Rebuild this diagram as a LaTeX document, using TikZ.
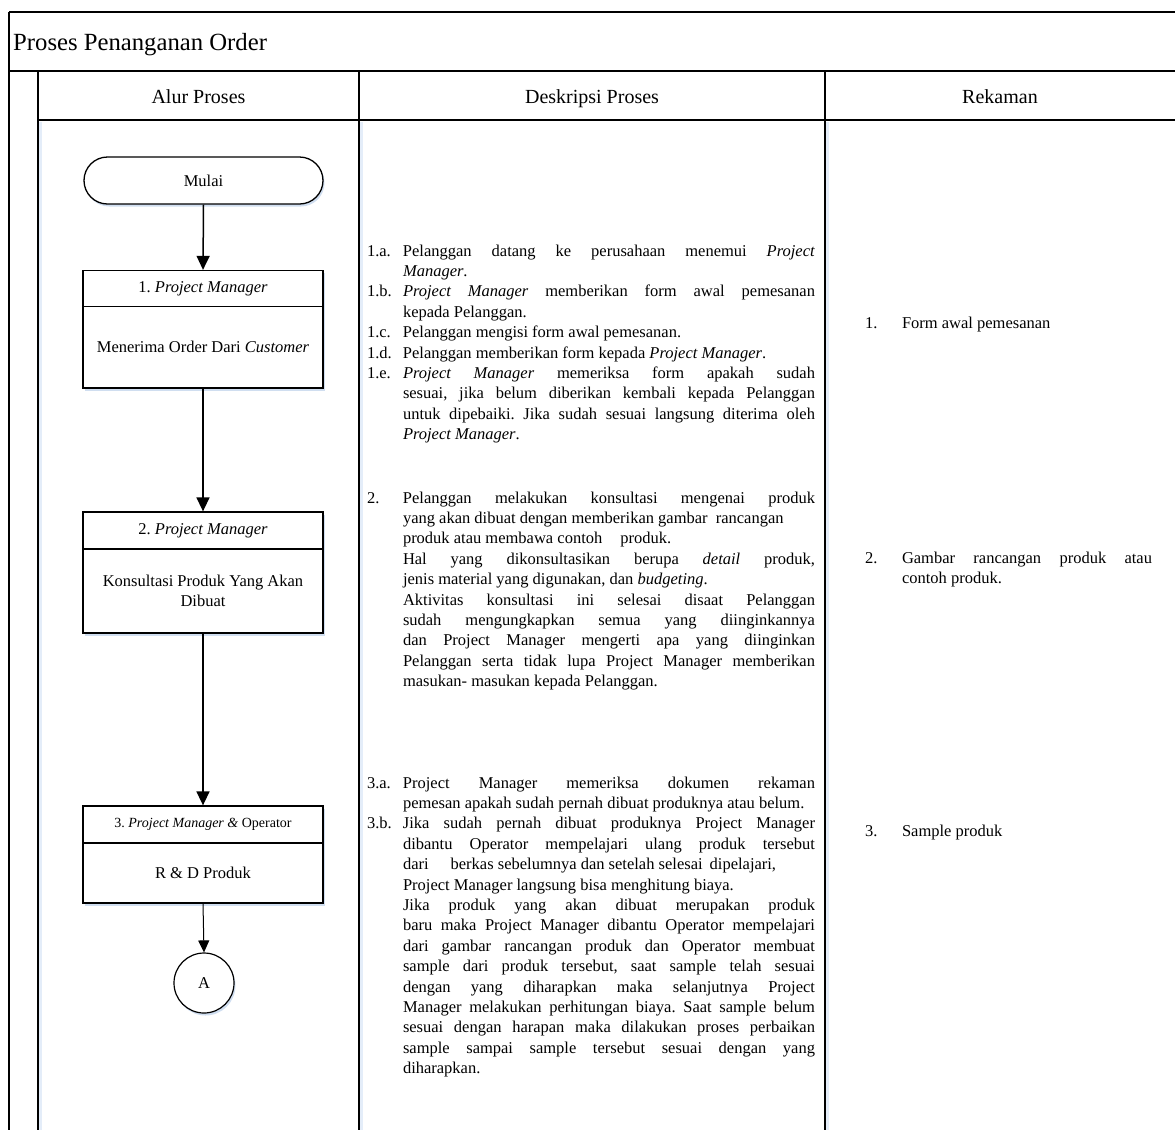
\documentclass[tikz,border=0pt]{standalone}
\usepackage{fontspec}
\setmainfont{Liberation Serif}
\usetikzlibrary{arrows.meta,shadows}
\definecolor{shadowblue}{RGB}{208,222,240}
\definecolor{lineshadow}{RGB}{228,237,249}
\frenchspacing

\newcommand{\djl}[2]{\makebox[36pt][l]{#1}\makebox[412pt][s]{#2}\par}
\newcommand{\dll}[2]{\makebox[36pt][l]{#1}#2\par}
\newcommand{\desctext}{\fontsize{16.5pt}{20.4pt}\selectfont\frenchspacing\setlength{\parskip}{0pt}\setlength{\parindent}{0pt}}

\tikzset{
  frame/.style={line width=1.6pt},
  lshadow/.style={lineshadow, line width=2.5pt},
  hdr/.style={anchor=base, inner sep=0pt, font={\fontsize{20pt}{24pt}\selectfont}},
  desc/.style={anchor=base west, inner sep=0pt, outer sep=0pt},
  fbox/.style={draw, line width=1.3pt, fill=white, minimum width=240pt, inner sep=0pt,
    align=center, font={\fontsize{16.5pt}{20.6pt}\selectfont},
    drop shadow={shadow xshift=1.5pt, shadow yshift=-2.5pt, fill=shadowblue, opacity=1}},
  arr/.style={-{Triangle[width=13pt,length=14pt]}, line width=1.5pt},
  arrthin/.style={-{Triangle[width=11pt,length=12pt]}, line width=1pt}
}

\begin{document}
\begin{tikzpicture}[x=1pt,y=-1pt]
\useasboundingbox (0,0) rectangle (1175,1130);

% light shadows of lane lines
\draw[lshadow] (40.5,122) -- (40.5,1130);
\draw[lshadow] (361.5,122) -- (361.5,1130);
\draw[lshadow] (827.5,122) -- (827.5,1130);

% frame
\draw[frame] (9,12) -- (1175,12);
\draw[frame] (9,12) -- (9,1130);
\draw[frame] (9,71) -- (1175,71);
\draw[frame] (38,71) -- (38,1130);
\draw[frame] (38,120) -- (1175,120);
\draw[frame] (359,71) -- (359,1130);
\draw[frame] (825,71) -- (825,1130);

% title and headers
\node[anchor=base west, inner sep=0pt, font={\fontsize{24.7pt}{30pt}\selectfont}] (title) at (13,50) {Proses Penanganan Order};
\node[hdr] (h1) at (198.5,103) {Alur Proses};
\node[hdr] (h2) at (592,103) {Deskripsi Proses};
\node[hdr] (h3) at (1000,103) {Rekaman};

% flowchart
\node[fbox, minimum width=239pt, minimum height=47pt, rounded corners=23.5pt] (start) at (203.5,180.5) {Mulai};

\node[fbox, minimum height=36pt] (b1h) at (203,288.5) {1. \textit{Project Manager}};
\node[fbox, minimum height=81.5pt] (b1b) at (203,347.25) {Menerima Order Dari \textit{Customer}};

\node[fbox, minimum height=37pt] (b2h) at (203,530.5) {2. \textit{Project Manager}};
\node[fbox, minimum height=84pt] (b2b) at (203,591) {Konsultasi Produk Yang Akan\\Dibuat};

\node[fbox, minimum height=37pt, font={\fontsize{14pt}{17pt}\selectfont}] (b3h) at (203,824.5) {3. \textit{Project Manager \&} Operator};
\node[fbox, minimum height=60pt] (b3b) at (203,873) {R \& D Produk};

\node[fbox, circle, minimum width=60pt, minimum size=60pt, line width=1.2pt] (A) at (204,983) {A};

\draw[arr] (start.south) -- (b1h.north);
\draw[arr] (b1b.south) -- (b2h.north);
\draw[arr] (b2b.south) -- (b3h.north);
\draw[arrthin] (b3b.south) -- (A.north);

% descriptions
\node[desc] (d1) at (367,256) {\begin{minipage}[t]{450pt}\desctext
\djl{1.a.}{Pelanggan datang ke perusahaan menemui \textit{Project}}
\dll{}{\textit{Manager}.}
\djl{1.b.}{\textit{Project Manager} memberikan form awal pemesanan}
\dll{}{kepada Pelanggan.}
\dll{1.c.}{Pelanggan mengisi form awal pemesanan.}
\dll{1.d.}{Pelanggan memberikan form kepada \textit{Project Manager}.}
\djl{1.e.}{\textit{Project Manager} memeriksa form apakah sudah}
\djl{}{sesuai, jika belum diberikan kembali kepada Pelanggan}
\djl{}{untuk dipebaiki. Jika sudah sesuai langsung diterima oleh}
\dll{}{\textit{Project Manager}.}
\end{minipage}};

\node[desc] (d2) at (367,503) {\begin{minipage}[t]{450pt}\desctext
\djl{2.}{Pelanggan melakukan konsultasi mengenai produk}
\dll{}{yang akan dibuat dengan memberikan gambar\hspace{4pt} rancangan}
\dll{}{produk atau membawa contoh\hspace{18pt}produk.}
\djl{}{Hal yang dikonsultasikan berupa \textit{detail} produk,}
\dll{}{jenis material yang digunakan, dan \textit{budgeting}.}
\djl{}{Aktivitas konsultasi ini selesai disaat Pelanggan}
\djl{}{sudah mengungkapkan semua yang diinginkannya}
\djl{}{dan Project Manager mengerti apa yang diinginkan}
\djl{}{Pelanggan serta tidak lupa Project Manager memberikan}
\dll{}{masukan- masukan kepada Pelanggan.}
\end{minipage}};

\node[desc] (d3) at (367,788) {\begin{minipage}[t]{450pt}\desctext
\djl{3.a.}{Project Manager memeriksa dokumen rekaman}
\dll{}{pemesan apakah sudah pernah dibuat produknya atau belum.}
\djl{3.b.}{Jika sudah pernah dibuat produknya Project Manager}
\djl{}{dibantu Operator mempelajari ulang produk tersebut}
\dll{}{dari\hspace{22pt}berkas sebelumnya dan setelah selesai\hspace{7pt}dipelajari,}
\dll{}{Project Manager langsung bisa menghitung biaya.}
\djl{}{Jika produk yang akan dibuat merupakan produk}
\djl{}{baru maka Project Manager dibantu Operator mempelajari}
\djl{}{dari gambar rancangan produk dan Operator membuat}
\djl{}{sample dari produk tersebut, saat sample telah sesuai}
\djl{}{dengan yang diharapkan maka selanjutnya Project}
\djl{}{Manager melakukan perhitungan biaya. Saat sample belum}
\djl{}{sesuai dengan harapan maka dilakukan proses perbaikan}
\djl{}{sample sampai sample tersebut sesuai dengan yang}
\dll{}{diharapkan.}
\end{minipage}};

% records
\node[desc] (r1) at (865,328) {\begin{minipage}[t]{300pt}\desctext
\makebox[37pt][l]{1.}Form awal pemesanan\par
\end{minipage}};
\node[desc] (r2) at (865,563) {\begin{minipage}[t]{300pt}\desctext
\makebox[37pt][l]{2.}\makebox[250pt][s]{Gambar rancangan produk atau}\par
\hspace*{37pt}contoh produk.\par
\end{minipage}};
\node[desc] (r3) at (865,836) {\begin{minipage}[t]{300pt}\desctext
\makebox[37pt][l]{3.}Sample produk\par
\end{minipage}};
\end{tikzpicture}
\end{document}
